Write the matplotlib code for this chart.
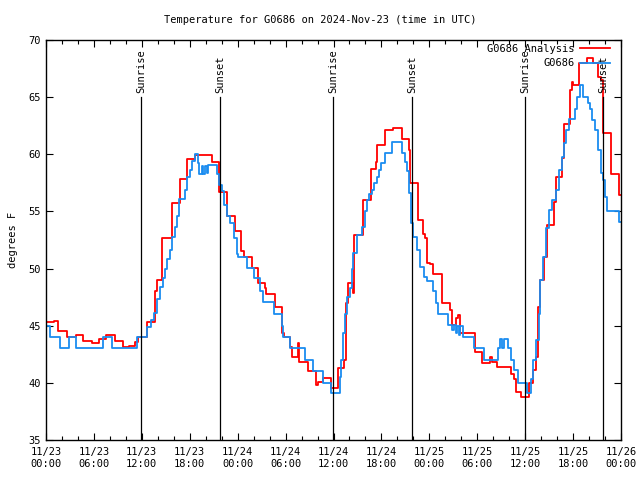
#!/usr/bin/env python
"""
Temperature plot for G0686, analysis vs. observation, with sunrise/sunset marks
"""

import numpy as np
import matplotlib
matplotlib.use('Agg')
import matplotlib.pyplot as plt
from matplotlib.ticker import MultipleLocator

# hours since 2024-11-23 00:00 UTC where the value changes, and the value
analysis_hours = [0.0, 1.0, 1.5, 2.6, 3.75, 4.6, 5.7, 6.6, 7.5, 8.6, 9.6, 10.4, 11.1, 11.5,
                  12.6, 13.6, 13.9, 14.5, 15.8, 16.8, 17.6, 18.6, 20.8, 21.7, 22.7, 23.7,
                  24.4, 24.8, 25.8, 26.6, 27.4, 27.6, 28.7, 29.6, 29.8, 30.6, 30.8, 31.5,
                  31.7, 32.8, 33.8, 34.1, 34.7, 35.7, 36.6, 37.3, 37.6, 37.8, 38.4, 38.6,
                  39.7, 40.7, 41.3, 41.5, 42.4, 43.5, 44.6, 45.5, 45.6, 46.6, 47.2, 47.4,
                  47.7, 48.1, 48.4, 49.6, 50.6, 50.9, 51.3, 51.6, 51.8, 53.7, 54.6, 55.6,
                  55.9, 56.5, 58.2, 58.6, 58.8, 59.5, 60.5, 61.0, 61.3, 61.6, 61.9, 62.3,
                  62.7, 63.6, 63.9, 64.6, 64.8, 65.6, 65.9, 66.0, 66.7, 67.8, 68.5, 69.1,
                  69.5, 69.8, 70.8, 71.7, 72.0]
analysis_temp = [45.3, 45.4, 44.5, 44.0, 44.2, 43.7, 43.5, 43.8, 44.2, 43.7, 43.1, 43.2, 43.6, 44.0,
                 45.3, 48.0, 49.0, 52.7, 55.7, 57.8, 59.6, 59.9, 59.3, 56.7, 54.6, 53.3,
                 51.5, 51.0, 50.05, 48.7, 48.3, 47.8, 46.6, 44.4, 44.0, 43.1, 42.3, 43.5,
                 41.8, 41.0, 39.8, 40.1, 40.4, 39.55, 41.3, 42.0, 47.0, 48.7, 47.9, 52.9,
                 56.0, 58.7, 59.3, 60.8, 62.1, 62.3, 61.3, 60.4, 57.5, 54.25, 53.0, 52.7,
                 50.5, 50.4, 49.5, 47.0, 46.4, 45.1, 45.7, 45.9, 44.4, 42.7, 41.7, 42.3,
                 41.8, 41.4, 40.8, 40.3, 39.2, 38.8, 40.0, 41.1, 42.3, 46.6, 49.0, 51.0,
                 53.8, 55.8, 58.0, 59.7, 62.65, 65.6, 66.3, 66.1, 68.0, 68.4, 68.0, 66.8,
                 66.5, 61.9, 58.3, 56.4, 56.4]

obs_hours = [0.0, 0.5, 1.75, 2.9, 3.75, 7.1, 8.3, 11.4, 12.7, 13.1, 13.5, 13.9, 14.3, 14.6,
             14.9, 15.2, 15.5, 15.8, 16.1, 16.4, 16.6, 17.4, 17.7, 18.0, 18.3, 18.7, 19.0,
             19.2, 19.5, 19.7, 19.9, 20.1, 20.3, 21.4, 21.7, 22.0, 22.3, 22.7, 23.1, 23.5,
             23.9, 24.0, 25.2, 26.0, 26.8, 27.2, 28.5, 29.5, 29.7, 30.5, 32.4, 33.4, 34.7,
             35.7, 36.8, 37.0, 37.2, 37.5, 37.7, 38.1, 38.3, 38.5, 38.9, 39.6, 39.9, 40.2,
             40.5, 40.8, 41.1, 41.4, 41.7, 42.0, 42.4, 43.3, 44.6, 45.0, 45.2, 45.4, 45.7,
             46.0, 46.4, 46.8, 47.3, 47.7, 48.4, 48.8, 49.1, 50.3, 50.9, 51.1, 51.3, 51.5,
             51.7, 51.9, 52.2, 53.6, 54.8, 56.6, 56.8, 57.1, 57.4, 57.9, 58.2, 58.6, 59.1,
             60.2, 60.7, 61.0, 61.4, 61.7, 61.8, 62.2, 62.6, 63.0, 63.4, 63.8, 64.2, 64.6,
             64.8, 65.1, 65.5, 66.2, 66.5, 66.9, 67.3, 67.9, 68.1, 68.4, 68.8, 69.1, 69.5,
             69.8, 70.0, 70.3, 71.7, 72.0]
obs_temp = [45.0, 44.0, 43.05, 44.0, 43.05, 44.0, 43.05, 44.0, 44.9, 45.5, 46.1, 47.3, 48.4, 49.2,
            50.0, 50.8, 51.6, 52.8, 53.6, 54.6, 56.1, 56.9, 58.0, 58.6, 59.4, 60.0, 59.2,
            58.3, 59.0, 58.3, 59.0, 58.4, 59.1, 58.3, 57.3, 56.75, 55.6, 54.6, 54.0, 52.7,
            51.3, 51.0, 50.05, 49.2, 48.0, 47.1, 46.0, 45.0, 44.0, 43.05, 42.0, 41.0, 40.0,
            39.1, 40.5, 42.0, 44.4, 46.0, 47.5, 48.3, 50.0, 51.4, 52.9, 53.6, 55.0, 56.0,
            56.5, 56.9, 57.5, 58.0, 58.6, 59.2, 60.1, 61.1, 60.1, 59.3, 58.5, 56.6, 54.0,
            52.8, 51.6, 50.1, 49.3, 48.9, 48.0, 47.0, 46.0, 45.1, 44.6, 45.1, 44.4, 45.0,
            44.2, 45.0, 44.0, 43.05, 42.0, 43.05, 43.8, 43.05, 43.8, 43.05, 42.0, 41.1, 40.0,
            39.1, 40.3, 42.0, 43.75, 46.0, 49.0, 51.0, 53.55, 55.1, 56.0, 56.9, 58.6, 59.8,
            61.0, 62.1, 63.1, 64.0, 65.0, 66.1, 65.0, 64.5, 64.0, 63.0, 62.1, 60.4, 58.4,
            57.75, 56.3, 55.0, 54.1, 54.1]

sun_hours = [11.9, 21.8, 35.94, 45.83, 59.98, 69.75]
sun_labels = ['Sunrise', 'Sunset', 'Sunrise', 'Sunset', 'Sunrise', 'Sunset']

tick_labels = ['11/23\n00:00', '11/23\n06:00', '11/23\n12:00', '11/23\n18:00',
               '11/24\n00:00', '11/24\n06:00', '11/24\n12:00', '11/24\n18:00',
               '11/25\n00:00', '11/25\n06:00', '11/25\n12:00', '11/25\n18:00',
               '11/26\n00:00']

MONO = 'DejaVu Sans Mono'


def plot_data():
    fig = plt.figure(figsize=(6.4, 4.8), dpi=100)
    ax = fig.add_axes([46 / 640, 40 / 480, 575 / 640, 400 / 480])

    ax.step(analysis_hours, analysis_temp, where='post', color='#ff0000', lw=1.3,
            label='G0686 Analysis')
    ax.step(obs_hours, obs_temp, where='post', color='#1a8cf0', lw=1.3, label='G0686')

    for h, lab in zip(sun_hours, sun_labels):
        ax.plot([h, h], [35, 65.0], color='black', lw=0.9)
        ax.text(h, 65.4, lab, rotation=90, ha='center', va='bottom',
                family=MONO, fontsize=7.5)

    ax.set_xlim(0, 72)
    ax.set_ylim(35, 70)
    ax.set_xticks(np.arange(0, 73, 6))
    ax.set_xticklabels(tick_labels)
    ax.xaxis.set_minor_locator(MultipleLocator(2))
    ax.set_yticks(np.arange(35, 71, 5))
    ax.tick_params(which='both', direction='in', top=True, right=True,
                   labelsize=7.5, width=0.8)
    ax.tick_params(which='major', length=5)
    ax.tick_params(which='minor', length=3)
    ax.tick_params(axis='x', pad=5)
    for lab in ax.get_xticklabels() + ax.get_yticklabels():
        lab.set_family(MONO)
    for sp in ax.spines.values():
        sp.set_linewidth(1.0)

    ax.set_ylabel('degrees F', family=MONO, fontsize=7.5, labelpad=8)
    fig.text(0.5, 1 - 20 / 480, 'Temperature for G0686 on 2024-Nov-23 (time in UTC)',
             ha='center', va='center', family=MONO, fontsize=7.5)

    ax.legend(loc='upper right', frameon=False, markerfirst=False,
              prop={'family': MONO, 'size': 7.5}, handlelength=2.9,
              bbox_to_anchor=(611 / 640, 1 - 43 / 480), bbox_transform=fig.transFigure,
              borderaxespad=0, borderpad=0.1, labelspacing=0.4, handletextpad=0.5)

    fig.savefig('out.png', dpi=100)


def main():
    plot_data()


# --------------------
if __name__ == '__main__':
    main()
